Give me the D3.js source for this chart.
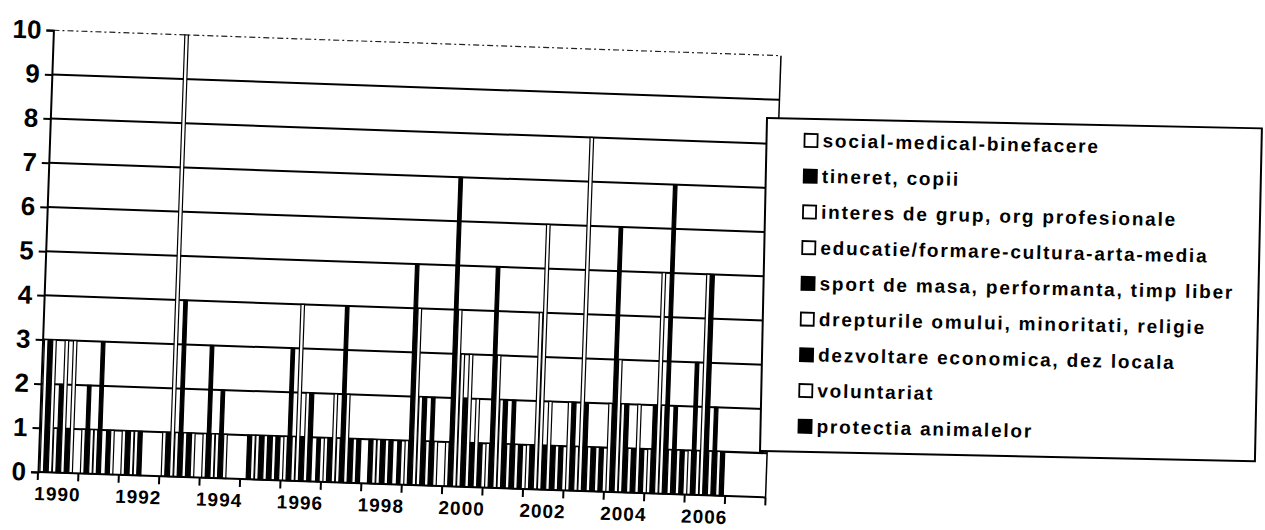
<!DOCTYPE html>
<html><head><meta charset="utf-8">
<script src="https://cdnjs.cloudflare.com/ajax/libs/d3/7.8.5/d3.min.js"></script>
<style>html,body{margin:0;padding:0;background:#fff;}svg{display:block;}</style>
</head><body>
<svg id="c" width="1265" height="530"></svg>
<script>
const years = ["1990","1991","1992","1993","1994","1995","1996","1997","1998","1999","2000","2001","2002","2003","2004","2005","2006","2007"];
const yearLabels = ["1990","1992","1994","1996","1998","2000","2002","2004","2006"];
const yTicks = [0,1,2,3,4,5,6,7,8,9,10];
const seriesNames = ["social-medical-binefacere","tineret, copii","interes de grup, org profesionale","educatie/formare-cultura-arta-media","sport de masa, performanta, timp liber","drepturile omului, minoritati, religie","dezvoltare economica, dez locala","voluntariat","protectia animalelor"];
const seriesFill = ["#fff","#000","#fff","#fff","#000","#fff","#000","#fff","#000"];
// values per series, one per year 1990..2007
const social      = [3,1,1,1,1,0,1,1,0,1,1,1,1,2,2,1,1,0];
const tineret     = [3,2,1,1,3,1,3,1,1,5,7,5,1,2,6,2,3,0];
const interes     = [3,1,1,10,1,1,1,2,1,4,4,3,4,1,3,5,1,0];
const educatie    = [1,1,1,1,1,1,4,1,1,2,3,2,6,8,2,2,5,0];
const sport       = [2,3,1,4,2,1,1,4,1,2,2,2,1,2,2,7,5,0];
const drepturile  = [3,0,0,1,1,1,2,2,1,1,3,1,2,1,1,1,1,0];
const dezvoltare  = [1,1,0,1,0,1,2,1,1,2,1,2,1,1,1,2,2,0];
const voluntariat = [3,1,0,1,0,1,0,1,0,1,2,1,1,1,2,1,1,0];
const protectia   = [0,0,0,0,0,1,1,1,1,0,1,1,1,1,1,1,1,0];
const seriesValues = [social,tineret,interes,educatie,sport,drepturile,dezvoltare,voluntariat,protectia];

const svg = d3.select("#c");
const W = 728, H = 442, ox = 38, oy = 472;
const g = svg.append("g").attr("transform", `rotate(2,${ox},${oy}) translate(${ox},${oy-H})`);

const x0 = d3.scaleBand().domain(years).range([0, W]).paddingInner(0.08).paddingOuter(0.04);
const x1 = d3.scaleBand().domain(d3.range(seriesNames.length)).range([0, x0.bandwidth()]).padding(0);
const y = d3.scaleLinear().domain([0, 10]).range([H, 0]);

// gridlines
g.append("g").selectAll("line").data(yTicks.filter(v => v > 0 && v < 10)).join("line")
  .attr("x1", 0).attr("x2", W).attr("y1", d => y(d)).attr("y2", d => y(d))
  .attr("stroke", "#000").attr("stroke-width", 2);
g.append("line").attr("x1", 0).attr("x2", W).attr("y1", y(10)).attr("y2", y(10))
  .attr("stroke", "#222").attr("stroke-width", 1.2).attr("stroke-dasharray", "6,3,2,3");
g.append("line").attr("x1", W).attr("x2", W).attr("y1", y(10)).attr("y2", y(0))
  .attr("stroke", "#000").attr("stroke-width", 1.5);

// bars
const groups = g.append("g").selectAll("g").data(years).join("g")
  .attr("transform", d => `translate(${x0(d)},0)`);
groups.selectAll("rect").data((d, i) => seriesValues.map((s, k) => ({k, v: s[i]})))
  .join("rect")
  .attr("x", d => x1(d.k) + 0.3).attr("width", x1.bandwidth() - 0.6)
  .attr("y", d => y(d.v)).attr("height", d => y(0) - y(d.v))
  .attr("fill", d => seriesFill[d.k]).attr("stroke", "#000").attr("stroke-width", 1.2)
  .attr("display", d => d.v > 0 ? null : "none");

// y axis
const yAxis = d3.axisLeft(y).tickValues(yTicks).tickSize(7).tickPadding(5).tickFormat(d3.format("d"));
const ya = g.append("g").call(yAxis);
ya.select(".domain").attr("stroke", "#000").attr("stroke-width", 2);
ya.selectAll(".tick line").attr("stroke", "#000").attr("stroke-width", 2);
ya.selectAll("text").attr("font-family", "Liberation Sans, Arial, sans-serif").attr("font-weight", "bold")
  .attr("font-size", 26).attr("fill", "#000");

// x axis with ticks at category boundaries
const boundaries = d3.range(years.length + 1).map(i => i * W / years.length);
const xa = g.append("g").attr("transform", `translate(0,${H})`);
xa.append("line").attr("x1", 0).attr("x2", W).attr("stroke", "#000").attr("stroke-width", 2);
xa.selectAll("line.t").data(boundaries).join("line").attr("class", "t")
  .attr("x1", d => d).attr("x2", d => d).attr("y1", 0).attr("y2", 8)
  .attr("stroke", "#000").attr("stroke-width", 2);
xa.selectAll("text").data(yearLabels).join("text")
  .attr("x", d => x0(d) + x0.bandwidth() / 2).attr("y", 28)
  .attr("text-anchor", "middle").attr("font-family", "Liberation Sans, Arial, sans-serif")
  .attr("font-weight", "bold").attr("font-size", 19).attr("letter-spacing", 1).attr("fill", "#000")
  .text(d => d);

// legend
const lx = 767, ly = 118, lw = 495, lh = 333;
const leg = svg.append("g").attr("transform", `rotate(1.2,${lx},${ly})`);
leg.append("rect").attr("x", lx).attr("y", ly).attr("width", lw).attr("height", lh)
  .attr("fill", "#fff").attr("stroke", "#000").attr("stroke-width", 2);
const items = leg.selectAll("g.it").data(seriesNames).join("g").attr("class", "it")
  .attr("transform", (d, i) => `translate(${lx},${ly + 28 + i * 35.75})`);
items.append("rect").attr("x", 38).attr("y", -13).attr("width", 13).attr("height", 13)
  .attr("fill", (d, i) => seriesFill[i]).attr("stroke", "#000").attr("stroke-width", 1.8);
items.append("text").attr("x", 56).attr("y", 0)
  .attr("font-family", "Liberation Sans, Arial, sans-serif").attr("font-weight", "bold")
  .attr("font-size", 19).attr("letter-spacing", 1.8).attr("fill", "#000").text(d => d);
</script>
</body></html>
